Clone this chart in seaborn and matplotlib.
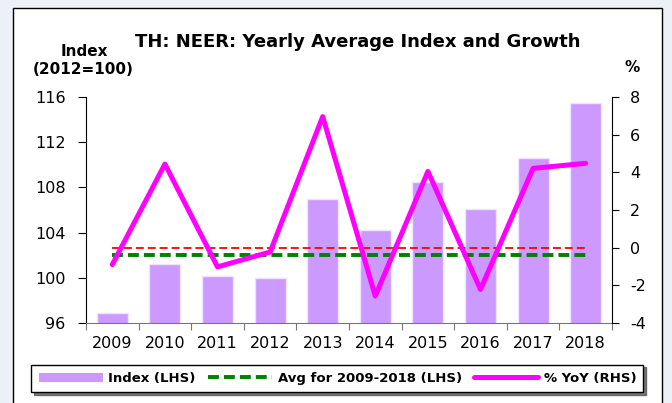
import numpy as np
import pandas as pd
import seaborn as sns
import matplotlib.pyplot as plt
from matplotlib.patches import Rectangle, Patch
from matplotlib.lines import Line2D

sns.set_style('ticks')
plt.rcParams['font.family'] = ['DejaVu Sans']
plt.rcParams['axes.unicode_minus'] = False
plt.rcParams['text.color'] = 'black'
plt.rcParams['axes.edgecolor'] = 'black'
plt.rcParams['xtick.color'] = 'black'
plt.rcParams['ytick.color'] = 'black'

# values
years = ['2009', '2010', '2011', '2012', '2013', '2014', '2015', '2016', '2017', '2018']
index_vals = [96.88, 101.22, 100.19, 100.0, 107.0, 104.2, 108.5, 106.1, 110.6, 115.5]
yoy_vals = [-0.9, 4.44, -1.02, -0.23, 6.96, -2.57, 4.05, -2.22, 4.21, 4.48]
avg_index = 102.05
yoy_ref = 0.0

labels = ['Index (LHS)', 'Avg for 2009-2018 (LHS)', '% YoY (RHS)']

df = pd.DataFrame({'year': years, 'index': index_vals, 'yoy': yoy_vals})
df['avg'] = avg_index
df['ref'] = yoy_ref

bar_col = '#cc99ff'
green = '#008000'
magenta = '#ff00ff'

fig = plt.figure(figsize=(6.72, 4.03), dpi=100, facecolor='#eef0f8')
# white chart frame
fig.patches.append(Rectangle((13 / 672, -0.05), 649 / 672, 1.0301, transform=fig.transFigure,
                             facecolor='white', edgecolor='black', lw=1, zorder=-1))

ax = fig.add_axes([0.128, 0.1985, 0.7827, 0.5608])
ax.patch.set_visible(False)
sns.barplot(data=df, x='year', y='index', color=bar_col, saturation=1, width=0.59,
            edgecolor='#efe4ff', linewidth=1, ax=ax)
sns.lineplot(data=df, x='year', y='avg', color=green, lw=2.8,
             linestyle=(0, (2.8, 1.3)), ax=ax)

ax2 = ax.twinx()
sns.lineplot(data=df, x='year', y='ref', color='red', lw=1.3,
             linestyle=(0, (4.4, 2.2)), ax=ax2)
sns.lineplot(data=df, x='year', y='yoy', color=magenta, lw=3.6, ax=ax2)

ax.set_ylim(96, 116)
ax.set_yticks(range(96, 117, 4))
ax2.set_ylim(-4, 8)
ax2.set_yticks(range(-4, 9, 2))
ax.set_xlim(-0.5, 9.5)
ax.set_xticks(np.arange(-0.5, 10, 1))
ax.set_xticks(np.arange(10), labels=years, minor=True)
ax.tick_params(axis='x', which='major', length=5, color='#777777', labelbottom=False)
ax.tick_params(axis='x', which='minor', length=0, pad=9, labelsize=11.5, labelcolor='black')
ax.tick_params(axis='y', length=6, pad=8.6, labelsize=11.5, color='black', labelcolor='black')
ax2.tick_params(axis='y', length=5, pad=8, labelsize=11.5, color='black', labelcolor='black')

for a in (ax, ax2):
    a.set_xlabel('')
    a.set_ylabel('')
    a.spines['top'].set_visible(False)
ax.spines['right'].set_visible(False)
ax.spines['bottom'].set_color('#777777')
ax.spines['left'].set_color('black')
ax2.spines['right'].set_color('black')
ax2.spines['left'].set_visible(False)
ax2.spines['bottom'].set_visible(False)

fig.text(358 / 672, 1 - 42 / 403, 'TH: NEER: Yearly Average Index and Growth',
         ha='center', va='center', fontsize=13, fontweight='bold', color='black')
fig.text(84 / 672, 1 - 51 / 403, 'Index', ha='center', va='center', fontsize=11,
         fontweight='bold', color='black')
fig.text(83 / 672, 1 - 70 / 403, '(2012=100)', ha='center', va='center', fontsize=11,
         fontweight='bold', color='black')
fig.text(632 / 672, 1 - 68 / 403, '%', ha='center', va='center', fontsize=11,
         fontweight='bold', color='black')

handles = [Patch(facecolor=bar_col, edgecolor='none'),
           Line2D([], [], color=green, lw=2.8, ls=(0, (2.8, 1.3))),
           Line2D([], [], color=magenta, lw=3.6)]
leg = fig.legend(handles, labels, loc='center', bbox_to_anchor=(0.502, 0.061), ncol=3,
                 frameon=True, fancybox=False, edgecolor='black', framealpha=1,
                 shadow={'color': '#555555', 'alpha': 0.8},
                 prop={'weight': 'bold', 'size': 9.5}, handlelength=4.9, handletextpad=0.4,
                 columnspacing=0.9, borderpad=0.55)
leg.get_frame().set_linewidth(1)
for t in leg.get_texts():
    t.set_color('black')

fig.savefig('out.png', dpi=100, facecolor=fig.get_facecolor())
